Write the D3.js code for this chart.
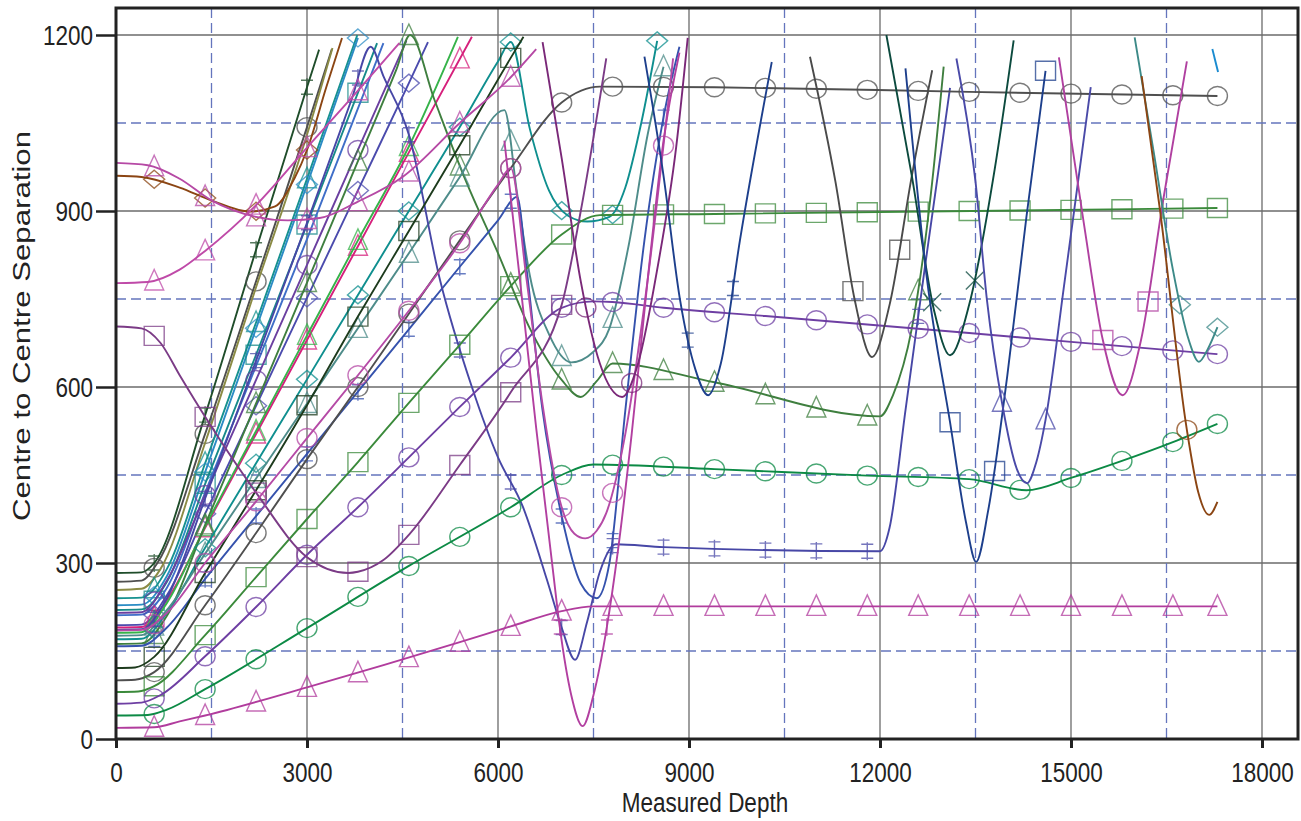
<!DOCTYPE html>
<html>
<head>
<meta charset="utf-8">
<script src="https://cdn.jsdelivr.net/npm/d3@7"></script>
<style>
  body { margin: 0; background: #fff; }
  svg text { font-family: "Liberation Sans", Arial, sans-serif; fill: #222; }
</style>
</head>
<body>
<svg id="chart" width="1301" height="821"></svg>
<script>
// axis ticks and grid
var depthTicks = [0, 3000, 6000, 9000, 12000, 15000, 18000];
var sepTicks = [0, 300, 600, 900, 1200];
var depthMinor = [1500, 4500, 7500, 10500, 13500, 16500];
var sepMinor = [150, 450, 750, 1050];
var markDepths = [600, 1400, 2200, 3000, 3800, 4600, 5400, 6200, 7000, 7800, 8600, 9400,
  10200, 11000, 11800, 12600, 13400, 14200, 15000, 15800, 16600];

// [measured depth, centre to centre separation]
var wellA = [[0,283],[400,284],[600,300],[1400,552],[2200,834],[3000,1111],[3190,1175]];
var wellB = [[0,268],[400,270],[650,300],[1400,520],[2200,780],[3000,1043],[3390,1176]];
var wellC = [[0,254],[400,256],[700,290],[1400,505],[2200,770],[3000,1030],[3400,1178]];
var wellD = [[0,240],[400,241],[800,290],[1400,470],[2200,710],[3000,955],[3790,1200]];
var wellE = [[0,228],[400,229],[800,278],[1400,455],[2200,700],[3000,945],[3800,1195]];
var wellF = [[0,220],[400,221],[800,268],[1400,435],[2200,655],[3000,877],[4100,1186]];
var wellG = [[0,211],[400,212],[800,258],[1400,420],[2200,636],[3000,852],[4200,1186]];
var wellH = [[0,194],[400,195],[800,245],[1400,384],[2200,568],[3000,752],[3800,935],[4600,1118],[4900,1188]];
var wellI = [[0,215],[400,216],[800,270],[1400,416],[2200,612],[3000,808],[3800,1004],[4560,1190]];
var wellJ = [[0,190],[400,191],[800,237],[1400,360],[2200,520],[3000,680],[3800,840],[4600,1000],[5590,1197]];
var wellK = [[0,181],[400,182],[800,232],[1400,362],[2200,525],[3000,688],[3800,850],[4600,1010],[5370,1197]];
var wellL = [[0,162],[400,163],[800,210],[1400,365],[2200,572],[3000,778],[3800,985],[4400,1140],[4620,1200],
  [5000,1090],[5500,950],[6000,828],[6500,700],[7000,612],[7300,583],[7550,610],[7800,640],[9400,608],
  [12000,550],[12200,585],[12500,700],[12800,930],[13000,1146]];
var wellM = [[0,170],[400,171],[800,215],[1400,326],[2200,470],[3000,613],[3800,757],[4600,900],[5400,1043],
  [6000,1155],[6200,1188],[6500,1040],[6800,935],[7100,892],[7400,882],[7750,890],[8000,940],[8250,1050],[8500,1190]];
var wellN = [[0,176],[400,177],[800,220],[1400,316],[2200,444],[3000,572],[3800,700],[4600,828],[5400,958],
  [6100,1072],[6300,930],[6500,790],[6800,690],[7150,642],[7500,660],[7750,700],[8050,840],[8350,1030],[8600,1146]];
var wellO = [[0,158],[400,159],[800,190],[1400,273],[2200,380],[3000,486],[3800,592],[4590,697],[5400,805],
  [6000,884],[6300,924],[6450,800],[6700,560],[7000,380],[7300,265],[7550,240],[7750,300],[8000,560],
  [8300,850],[8600,1060],[8850,1180]];
var wellP = [[0,186],[400,187],[800,240],[1400,410],[2200,645],[3000,880],[3700,1090],[4000,1180],[4200,1130],
  [4600,1030],[5090,782],[5590,600],[6000,480],[6390,396],[6770,271],[7000,190],[7210,135],[7400,200],
  [7600,285],[7850,332],[8600,327],[12000,320],[12150,360],[12400,560],[12700,800],[13100,1110]];
var wellQ = [[0,121],[300,122],[600,140],[1400,283],[2200,424],[3000,569],[3800,720],[4600,866],[5400,1012],
  [6200,1161],[6400,1197]];
var wellR = [[0,100],[300,101],[600,114],[1400,228],[2200,351],[3000,477],[3800,600],[4600,725],[5400,850],
  [6200,973],[7000,1085],[7600,1112],[9400,1111],[13400,1103],[17300,1096]];
var wellS = [[0,80],[350,81],[600,90],[1400,177],[2200,276],[3000,375],[3800,472],[4600,573],[5400,672],
  [6200,772],[7000,860],[7600,893],[9400,895],[17300,905]];
var wellT = [[0,60],[400,62],[700,75],[1400,141],[2200,225],[3000,314],[3800,395],[4600,480],[5400,566],
  [6200,650],[7000,735],[7500,746],[7800,745],[8600,735],[10200,721],[13400,692],[15000,677],[17300,656]];
var wellU = [[0,40],[500,41],[800,50],[1400,85],[3000,189],[4600,295],[6200,395],[7000,450],[7500,468],
  [9400,460],[11800,449],[13400,443],[14300,424],[15000,445],[15800,474],[16600,506],[17300,537]];
var wellV = [[0,19],[600,20],[1000,30],[1400,40],[3000,88],[5400,165],[6200,192],[7000,218],[7500,226],[17300,226]];
var wellW = [[0,703],[400,700],[700,675],[1000,620],[1430,544],[2200,420],[3000,310],[3650,283],[3800,285],
  [4200,305],[4600,348],[5400,467],[6200,591],[7000,740],[7300,900],[7700,1160]];
var wellX = [[0,960],[400,958],[1000,940],[1500,918],[2100,899],[2500,908],[2800,955],[3000,1004],[3300,1110],[3550,1195]];
var wellY = [[0,982],[500,978],[1000,955],[1500,918],[2200,890],[2700,884],[3200,888],[3800,916],[4500,958],
  [5400,1050],[6200,1128],[6600,1176]];
var wellZ = [[0,777],[500,779],[1000,800],[1400,832],[2200,910],[3000,1008],[3800,1105],[4450,1186]];
var pinkV = [[0,185],[400,186],[800,215],[1400,300],[2200,405],[3000,513],[3800,620],[4600,730],[5400,845],
  [6000,945],[6200,973],[6450,782],[6700,570],[7000,395],[7200,350],[7370,342],[7550,355],[7700,385],
  [8000,520],[8350,782],[8750,1160]];
var magDeep = [[6100,1020],[6345,782],[6600,530],[6860,290],[6970,191],[7150,75],[7330,22],[7500,75],
  [7710,191],[7885,322],[8100,520],[8350,782],[8600,1020],[8850,1170]];
var purpleV = [[6700,1188],[7000,990],[7300,780],[7600,640],[7950,583],[8200,640],[8500,800],[8800,1010],[8980,1195]];
var navy4 = [[8300,1163],[8600,960],[8860,748],[9100,630],[9300,586],[9500,640],[9800,850],[10300,1154]];
var gray2 = [[10900,1163],[11300,950],[11600,750],[11875,651],[12150,740],[12500,960],[12820,1140]];
var teal3 = [[12100,1200],[12500,960],[12850,730],[13100,654],[13400,740],[13800,970],[14100,1191]];
var navy5 = [[12400,1143],[12740,782],[13100,540],[13350,370],[13510,302],[13700,390],[14000,620],[14300,890],[14600,1139]];
var indigoV = [[13200,1160],[13500,950],[13680,748],[13915,574],[14150,460],[14310,436],[14450,470],[14600,544],[14900,780],[15310,1111]];
var orchid7 = [[14810,1162],[15200,880],[15500,680],[15810,586],[16100,680],[16450,920],[16820,1155]];
var teal8 = [[16000,1196],[16300,1000],[16600,800],[16850,680],[17010,643],[17150,665],[17300,702]];
var brownR = [[16110,1130],[16400,900],[16820,527],[17000,420],[17170,382],[17300,404]];
var blueS = [[17220,1176],[17310,1137]];

// marker depths where they are not on the regular spacing
var magDeepMarks = [6970, 7710];
var purpleVMarks = [7380, 8100];
var navy4Marks = [8980, 9690];
var gray2Marks = [11575, 12310];
var teal3Marks = [12820, 13490];
var navy5Marks = [13100, 13800, 14600];
var indigoVMarks = [13915, 14600];
var orchid7Marks = [15500, 16210];
var teal8Marks = [16710, 17300];
var brownRMarks = [16820];

var svg = d3.select('#chart');
var frameTop = 8, frameRight = 1298;
var x = d3.scaleLinear().domain([0, 18000]).range([116, 1262]);
var y = d3.scaleLinear().domain([0, 1200]).range([739, 35]);

var wells = [
  {pts: wellA, color: '#1f4d2a', mark: 'ibeam'},
  {pts: wellB, color: '#4f4f4f', mark: 'circle'},
  {pts: wellC, color: '#8b8b45', mark: 'none'},
  {pts: wellD, color: '#16918f', mark: 'triangle'},
  {pts: wellE, color: '#2b8cc4', mark: 'diamond'},
  {pts: wellF, color: '#178a8a', mark: 'square'},
  {pts: wellG, color: '#3f6ec8', mark: 'none'},
  {pts: wellH, color: '#4b4bad', mark: 'diamond'},
  {pts: wellI, color: '#6b3fa0', mark: 'circle'},
  {pts: wellJ, color: '#d6207c', mark: 'triangle'},
  {pts: wellK, color: '#36b34a', mark: 'triangle'},
  {pts: wellL, color: '#3f7f3f', mark: 'triangle'},
  {pts: wellM, color: '#0f8f8f', mark: 'diamond'},
  {pts: wellN, color: '#4e8c8a', mark: 'triangle'},
  {pts: wellO, color: '#3552ad', mark: 'ibeam'},
  {pts: wellP, color: '#4747a6', mark: 'ibeam'},
  {pts: wellQ, color: '#1d3b1d', mark: 'square'},
  {pts: wellR, color: '#4f4f4f', mark: 'circle'},
  {pts: wellS, color: '#3b8a3b', mark: 'square'},
  {pts: wellT, color: '#6e3fa3', mark: 'circle'},
  {pts: wellU, color: '#0c8a45', mark: 'circle'},
  {pts: wellV, color: '#b13c9d', mark: 'triangle'},
  {pts: wellW, color: '#7b3b86', mark: 'square'},
  {pts: wellX, color: '#8b4513', mark: 'diamond'},
  {pts: wellY, color: '#b649a5', mark: 'triangle'},
  {pts: wellZ, color: '#bf4aa8', mark: 'triangle'},
  {pts: pinkV, color: '#b54aa6', mark: 'circle'},
  {pts: magDeep, color: '#b23fa0', mark: 'ibeam', marks: magDeepMarks},
  {pts: purpleV, color: '#7a2878', mark: 'circle', marks: purpleVMarks},
  {pts: navy4, color: '#1d3f8c', mark: 'ibeam', marks: navy4Marks},
  {pts: gray2, color: '#4a4a4a', mark: 'square', marks: gray2Marks},
  {pts: teal3, color: '#0c4a3e', mark: 'cross', marks: teal3Marks},
  {pts: navy5, color: '#1d3f8c', mark: 'square', marks: navy5Marks},
  {pts: indigoV, color: '#4a4aa8', mark: 'triangle', marks: indigoVMarks},
  {pts: orchid7, color: '#b040a0', mark: 'square', marks: orchid7Marks},
  {pts: teal8, color: '#3d8a88', mark: 'diamond', marks: teal8Marks},
  {pts: brownR, color: '#8b4513', mark: 'circle', marks: brownRMarks},
  {pts: blueS, color: '#1a8bd0', mark: 'none'}
];

var symbols = {
  circle: 'M-10,0a10,9.5,0 1,0 20,0a10,9.5,0 1,0 -20,0Z',
  square: 'M-10,-9.5H10V9.5H-10Z',
  triangle: 'M0,-11.5L9.5,9H-9.5Z',
  diamond: 'M0,-9L10.5,0L0,9L-10.5,0Z',
  ibeam: 'M-6,-7H6M-6,7H6M0,-9V9',
  cross: 'M-9,-9L9,9M-9,9L9,-9'
};

// grid
svg.append('defs').append('clipPath').attr('id', 'clip')
  .append('rect').attr('x', 116).attr('y', frameTop).attr('width', frameRight - 116).attr('height', 739 - frameTop);

var grid = svg.append('g');
grid.selectAll('.vmaj').data(depthTicks.slice(1)).join('line')
  .attr('x1', d => x(d)).attr('x2', d => x(d)).attr('y1', frameTop).attr('y2', y(0))
  .attr('stroke', '#6b6b6b').attr('stroke-width', 1.3);
grid.selectAll('.hmaj').data(sepTicks.slice(1)).join('line')
  .attr('x1', x(0)).attr('x2', frameRight).attr('y1', d => y(d)).attr('y2', d => y(d))
  .attr('stroke', '#6b6b6b').attr('stroke-width', 1.3);
grid.selectAll('.vmin').data(depthMinor).join('line')
  .attr('x1', d => x(d)).attr('x2', d => x(d)).attr('y1', frameTop).attr('y2', y(0))
  .attr('stroke', '#6475bd').attr('stroke-width', 1.3).attr('stroke-dasharray', '10,5');
grid.selectAll('.hmin').data(sepMinor).join('line')
  .attr('x1', x(0)).attr('x2', frameRight).attr('y1', d => y(d)).attr('y2', d => y(d))
  .attr('stroke', '#6475bd').attr('stroke-width', 1.3).attr('stroke-dasharray', '10,5');

// curves
var line = d3.line().x(d => x(d[0])).y(d => y(d[1])).curve(d3.curveMonotoneX);
var gLines = svg.append('g').attr('clip-path', 'url(#clip)');

function defaultMarks(pts) {
  var first = pts[0][0], last = pts[pts.length - 1][0];
  var m = markDepths.filter(d => d >= first && d <= last);
  if (m.length && last - m[m.length - 1] > 600 && last >= 8000) m.push(last);
  return m;
}

// find the point of a drawn path at a given screen x
function pointAt(node, px) {
  var lo = 0, hi = node.getTotalLength();
  for (var i = 0; i < 30; i++) {
    var mid = (lo + hi) / 2;
    if (node.getPointAtLength(mid).x < px) lo = mid; else hi = mid;
  }
  return node.getPointAtLength((lo + hi) / 2);
}

wells.forEach(function (w) {
  var path = gLines.append('path').datum(w.pts)
    .attr('d', line).attr('fill', 'none')
    .attr('stroke', w.color).attr('stroke-width', 1.9);
  if (w.mark === 'none') return;
  var marks = w.marks || defaultMarks(w.pts);
  marks.forEach(function (md) {
    var p = pointAt(path.node(), x(md));
    gLines.append('path')
      .attr('d', symbols[w.mark])
      .attr('transform', 'translate(' + p.x + ',' + p.y + ')')
      .attr('fill', 'none').attr('stroke', w.color)
      .attr('stroke-opacity', 0.75).attr('stroke-width', 1.4);
  });
});

// frame
svg.append('rect').attr('x', 116).attr('y', frameTop)
  .attr('width', frameRight - 116).attr('height', 739 - frameTop)
  .attr('fill', 'none').attr('stroke', '#222').attr('stroke-width', 3);

// axes
var xAxis = svg.append('g').attr('transform', 'translate(0,739)')
  .call(d3.axisBottom(x).tickValues(depthTicks).tickSize(9).tickSizeOuter(0).tickFormat(d3.format('d')));
xAxis.select('.domain').remove();
xAxis.selectAll('.tick line').attr('stroke', '#222').attr('stroke-width', 3);
xAxis.selectAll('.tick text').attr('y', 0).attr('dy', 0)
  .attr('transform', 'translate(0,43) scale(1,1.2)')
  .style('font-size', '22.5px').attr('fill', '#222');

var yAxis = svg.append('g').attr('transform', 'translate(116,0)')
  .call(d3.axisLeft(y).tickValues(sepTicks).tickSize(20).tickSizeOuter(0).tickFormat(d3.format('d')));
yAxis.select('.domain').remove();
yAxis.selectAll('.tick line').attr('stroke', '#222').attr('stroke-width', 2.5);
yAxis.selectAll('.tick text').attr('x', 0).attr('dy', '0.36em')
  .attr('transform', 'translate(-23,0) scale(1,1.2)')
  .style('font-size', '22.5px').attr('fill', '#222');

svg.append('text').attr('text-anchor', 'middle')
  .attr('transform', 'translate(705,812) scale(1,1.2)')
  .style('font-size', '22.5px').text('Measured Depth');

svg.append('text').attr('text-anchor', 'middle')
  .attr('transform', 'translate(30,326) rotate(-90) scale(1.3,1)')
  .style('font-size', '24px').text('Centre to Centre Separation');
</script>
</body>
</html>
